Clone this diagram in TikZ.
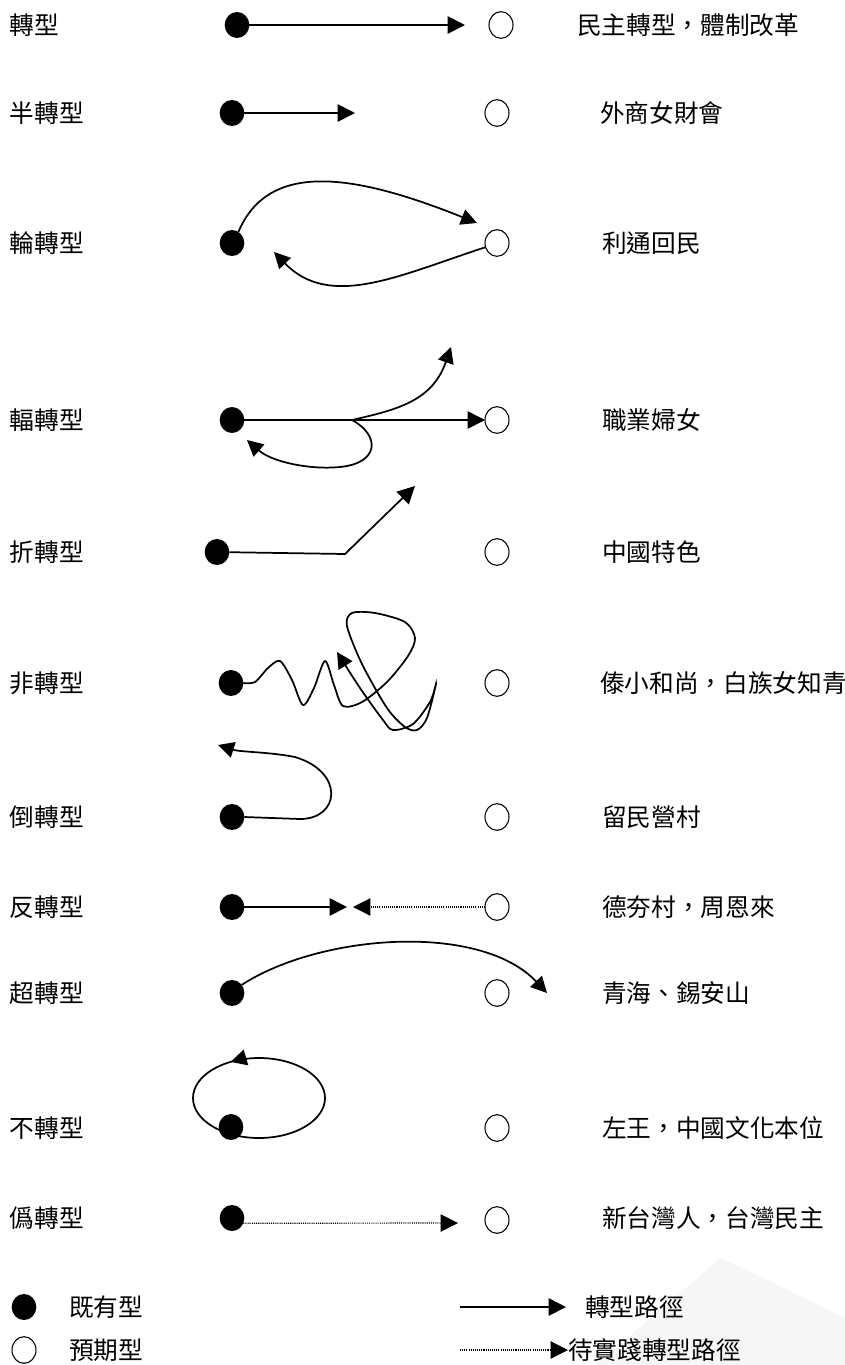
\documentclass[tikz,border=0pt]{standalone}
\usepackage{fontspec}
\setmainfont{Noto Sans CJK TC}
\usetikzlibrary{arrows.meta,shapes.geometric,decorations.markings,calc}
\begin{document}
\begin{tikzpicture}[x=0.75pt,y=-0.75pt,
  every node/.style={inner sep=0pt, outer sep=0pt},
  filled/.style={ellipse, fill=black, minimum width=18.5pt, minimum height=19.5pt},
  hollow/.style={ellipse, draw=black, line width=0.8pt, minimum width=18pt, minimum height=20pt},
  lbl/.style={anchor=west, font=\fontsize{18.5pt}{20pt}\selectfont},
  solidpath/.style={line width=1.3pt, -{Triangle[length=13pt,width=13pt]}},
  dotpath/.style={line width=0.9pt, dash pattern=on 0.8pt off 0.8pt, -{Triangle[length=13pt,width=13pt]}},
  curvepath/.style={line width=1.3pt, -{Triangle[length=12pt,width=12pt]}},
]
\useasboundingbox (0,0) rectangle (845,1365);
\fill[white] (0,0) rectangle (845,1365);
% faint watermark
\fill[gray!7] (721,1258) -- (845,1318) -- (845,1365) -- (596,1365) -- cycle;

% Row 1
\node[lbl] (l1) at (10,25) {轉型};
\node[filled] (d1) at (237,25) {};
\node[hollow] (o1) at (501,25) {};
\node[lbl] (t1) at (577,25) {民主轉型，體制改革};
\coordinate (e1) at (465,25);
\draw[solidpath] (d1) -- (e1);

% Row 2
\node[lbl] (l2) at (10,113) {半轉型};
\node[filled] (d2) at (232,113) {};
\node[hollow] (o2) at (497,113) {};
\node[lbl] (t2) at (600,113) {外商女財會};
\coordinate (e2) at (355,113);
\draw[solidpath] (d2) -- (e2);

% Row 3
\node[lbl] (l3) at (10,243) {輪轉型};
\node[filled] (d3) at (232,243) {};
\node[hollow] (o3) at (497,243) {};
\node[lbl] (t3) at (602,243) {利通回民};
\coordinate (e3a) at (477,223);
\coordinate (e3b) at (274,252);
\draw[curvepath] (d3.60) .. controls (268,162) and (350,172) .. (e3a);
\draw[curvepath] (o3.200) .. controls (400,275) and (330,310) .. (e3b);

% Row 4
\node[lbl] (l4) at (10,420) {輻轉型};
\node[filled] (d4) at (232,420) {};
\node[hollow] (o4) at (497,420) {};
\node[lbl] (t4) at (602,420) {職業婦女};
\coordinate (b4) at (352,420);
\coordinate (e4a) at (451,347);
\coordinate (e4b) at (247,440);
\draw[solidpath] (d4) -- (o4);
\draw[curvepath] (b4) .. controls (395,410) and (432,402) .. (e4a);
\draw[curvepath] (b4) .. controls (380,435) and (380,463) .. (340,467) .. controls (310,470) and (272,462) .. (e4b);

% Row 5
\node[lbl] (l5) at (10,552) {折轉型};
\node[filled] (d5) at (217,552) {};
\node[hollow] (o5) at (497,552) {};
\node[lbl] (t5) at (602,552) {中國特色};
\coordinate (b5) at (345,554);
\coordinate (e5) at (415,486);
\draw[solidpath] (d5) -- (b5) -- (e5);

% Row 6
\node[lbl] (l6) at (10,683) {非轉型};
\node[filled] (d6) at (231,683) {};
\node[hollow] (o6) at (497,683) {};
\node[lbl] (t6) at (600,683) {傣小和尚，白族女知青};
\coordinate (e6) at (337,652);
\draw[curvepath] plot[smooth, tension=0.5] coordinates {(d6.east) (255,682) (268,668) (280,661) (292,680) (303,705) (314,688) (325,661) (334,685) (343,706) (362,702) (387,682) (408,656) (415,638) (405,622) (375,613) (352,613) (347,626) (362,664) (387,708) (405,727) (417,730) (427,718) (436,684) (430,702) (413,724) (393,730) (383,720) (360,688) (e6)};

% Row 7
\node[lbl] (l7) at (10,817) {倒轉型};
\node[filled] (d7) at (232,817) {};
\node[hollow] (o7) at (497,817) {};
\node[lbl] (t7) at (602,817) {留民營村};
\coordinate (e7) at (218,745);
\draw[curvepath] (d7.east) -- (300,819) .. controls (340,819) and (345,772) .. (295,757) .. controls (270,752) and (240,752) .. (e7);

% Row 8
\node[lbl] (l8) at (10,907) {反轉型};
\node[filled] (d8) at (232,907) {};
\node[hollow] (o8) at (497,907) {};
\node[lbl] (t8) at (602,907) {德夯村，周恩來};
\coordinate (e8a) at (347,907);
\coordinate (e8b) at (353,907);
\draw[solidpath] (d8) -- (e8a);
\draw[dotpath] (o8) -- (e8b);

% Row 9
\node[lbl] (l9) at (10,993) {超轉型};
\node[filled] (d9) at (232,993) {};
\node[hollow] (o9) at (497,993) {};
\node[lbl] (t9) at (602,993) {青海、錫安山};
\coordinate (e9) at (547,993);
\draw[curvepath] (d9.40) .. controls (320,934) and (480,922) .. (e9);

% Row 10
\node[lbl] (l10) at (10,1128) {不轉型};
\node[filled] (d10) at (231,1127) {};
\node[hollow] (o10) at (497,1128) {};
\node[lbl] (t10) at (602,1128) {左王，中國文化本位};
\draw[line width=1.3pt, postaction=decorate,
  decoration={markings, mark=at position 0.665 with {\arrowreversed{Triangle[length=12pt,width=12pt]}}}]
  ($(d10)+(28,-29)$) ellipse [x radius=66, y radius=40];

% Row 11
\node[lbl] (l11) at (10,1218) {僞轉型};
\node[filled] (d11) at (232,1218) {};
\node[hollow] (o11) at (497,1220) {};
\node[lbl] (t11) at (602,1218) {新台灣人，台灣民主};
\coordinate (e11) at (458,1223);
\draw[dotpath] (d11.-25) -- (e11);

% Legend
\node[filled] (ld) at (24,1307) {};
\node[hollow] (lo) at (24,1350) {};
\node[lbl] (ldt) at (69,1307) {既有型};
\node[lbl] (lot) at (69,1350) {預期型};
\coordinate (ls1) at (460,1307);
\coordinate (le1) at (566,1307);
\draw[solidpath] (ls1) -- (le1);
\node[lbl] (lt1) at (585,1307) {轉型路徑};
\coordinate (ls2) at (460,1350);
\node[lbl] (lt2) at (568,1350) {待實踐轉型路徑};
\draw[dotpath] (ls2) -- (lt2.west);
\end{tikzpicture}
\end{document}
